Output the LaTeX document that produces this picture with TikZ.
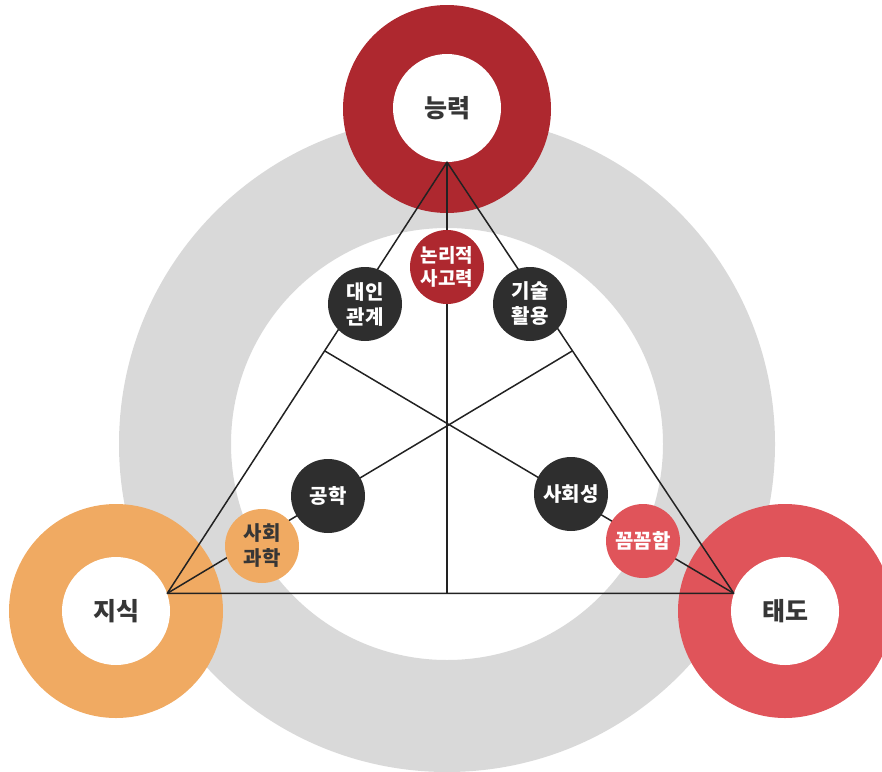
\documentclass[tikz,border=0pt]{standalone}
\usepackage{fontspec}
\setmainfont{Noto Sans CJK KR}
\usepackage{xcolor}
\usepackage{tikz}
\usetikzlibrary{calc}
\definecolor{hoesaek}{HTML}{D9D9D9}
\definecolor{jinBbalgang}{HTML}{AE282F}
\definecolor{juhwang}{HTML}{F0AA62}
\definecolor{bunhong}{HTML}{E0545A}
\definecolor{geomjeong}{HTML}{2E2E2E}
\definecolor{geulja}{HTML}{363636}
\definecolor{seon}{HTML}{222222}

\begin{document}
\begin{tikzpicture}[x=1pt,y=-1pt,
  jungsim/.style={circle,fill=white,minimum size=108pt,inner sep=0pt,text=geulja,font=\bfseries\fontsize{25}{28}\selectfont},
  yoso/.style={circle,minimum size=74pt,inner sep=0pt,align=center,text=white,font=\bfseries\fontsize{20}{25}\selectfont}]
\useasboundingbox (0,0) rectangle (882,771);
\clip (0,0) rectangle (882,771);
\fill[hoesaek,even odd rule] (447,444) circle (328pt) (447,444) circle (216pt);
\fill[jinBbalgang] (447,109) circle (104pt);
\fill[juhwang] (116,611) circle (107pt);
\fill[bunhong] (785,611) circle (107pt);
\node[jungsim] (neungryeok) at (447,108) {능력};
\node[jungsim] (jisik) at (116,611) {지식};
\node[jungsim] (taedo) at (785,611) {태도};
% samgakhyeong
\coordinate (kkokdae) at (neungryeok.south);
\coordinate (oenjjok) at (jisik.19);
\coordinate (oreunjjok) at (taedo.161);
\coordinate (jwabyeon) at ($(kkokdae)!0.4375!(oenjjok)$);
\coordinate (ubyeon) at ($(kkokdae)!0.4375!(oreunjjok)$);
\draw[seon,line width=1.5pt,line join=round] (kkokdae) -- (oenjjok) -- (oreunjjok) -- cycle;
\draw[seon,line width=1.5pt] (kkokdae) -- (kkokdae |- oenjjok);
\draw[seon,line width=1.5pt] (jwabyeon) -- (oreunjjok);
\draw[seon,line width=1.5pt] (ubyeon) -- (oenjjok);
% yoso
\node[yoso,fill=jinBbalgang,font=\bfseries\fontsize{19}{23}\selectfont] (nonri) at (447,267) {논리적\\사고력};
\node[yoso,fill=geomjeong] (daein) at (365,304) {대인\\관계};
\node[yoso,fill=geomjeong] (gisul) at (530,304) {기술\\활용};
\node[yoso,fill=geomjeong] (gonghak) at (328,496) {공학};
\node[yoso,fill=juhwang,text=geulja] (sahoegwahak) at (262,546) {사회\\과학};
\node[yoso,fill=geomjeong] (sahoeseong) at (571,494) {사회성};
\node[yoso,fill=bunhong] (kkomkkom) at (643,541) {꼼꼼함};
\end{tikzpicture}
\end{document}
